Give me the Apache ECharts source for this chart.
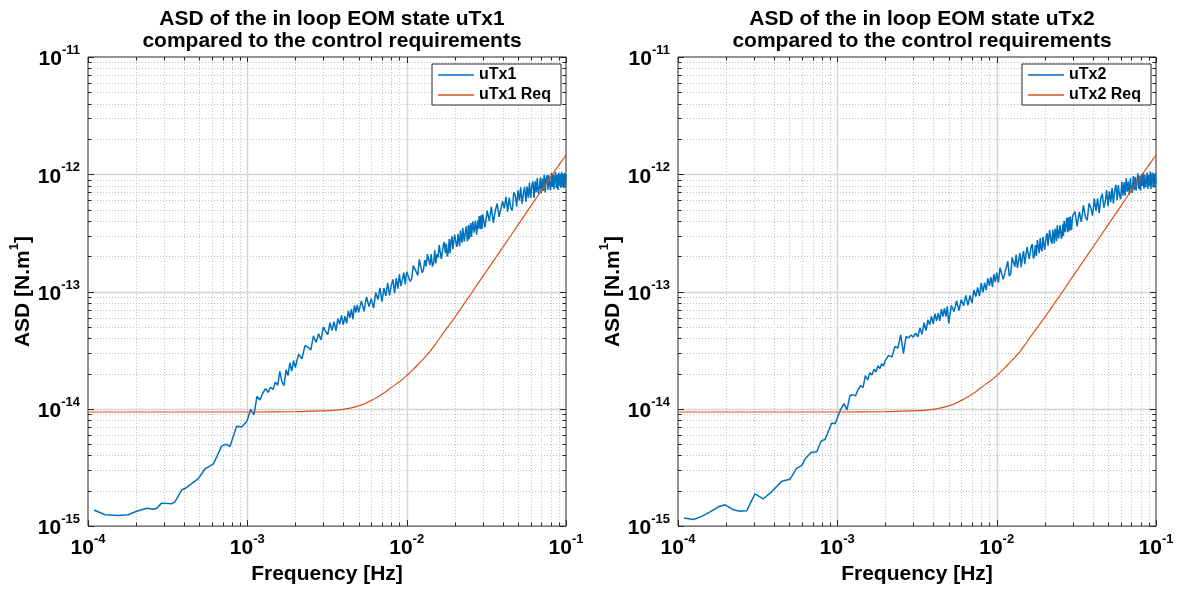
<!DOCTYPE html>
<html><head><meta charset="utf-8">
<script src="https://cdn.jsdelivr.net/npm/echarts@6/dist/echarts.min.js"></script>
<style>html,body{margin:0;padding:0;background:#fff}#chart{width:1179px;height:590px}</style>
</head><body><div id="chart"></div>
<script>
// ---------------- DATA (ASD values stored in fN·m, i.e. units of 1e-15 N.m) ----------------
const FN = 1e-15;

const uTx1FreqLow = [1.09e-4, 1.28e-4, 1.55e-4, 1.79e-4, 2.02e-4, 2.34e-4, 2.57e-4, 2.70e-4, 2.90e-4, 3.35e-4, 3.52e-4, 3.87e-4, 4.06e-4, 4.47e-4, 4.93e-4, 5.42e-4, 6.13e-4, 6.91e-4, 7.42e-4, 7.78e-4, 8.56e-4, 9.22e-4, 9.93e-4];
const uTx1AsdLow  = [1.37, 1.25, 1.23, 1.25, 1.34, 1.42, 1.39, 1.42, 1.57, 1.55, 1.62, 2.03, 2.09, 2.30, 2.54, 3.07, 3.39, 4.83, 4.98, 4.76, 7.10, 7.00, 7.82];

const uTx2FreqLow = [1.09e-4, 1.25e-4, 1.41e-4, 1.59e-4, 1.79e-4, 1.97e-4, 2.22e-4, 2.45e-4, 2.70e-4, 3.04e-4, 3.43e-4, 3.87e-4, 4.48e-4, 5.05e-4, 5.56e-4, 5.98e-4, 6.27e-4, 6.84e-4, 7.43e-4, 7.91e-4, 8.37e-4, 9.23e-4, 9.68e-4];
const uTx2AsdLow  = [1.17, 1.14, 1.21, 1.32, 1.46, 1.52, 1.38, 1.34, 1.35, 1.88, 1.71, 1.96, 2.41, 2.51, 3.12, 3.28, 3.73, 4.24, 4.30, 5.32, 5.48, 7.56, 7.46];

const freqHigh = [
  0.00105,0.0011,0.00115,0.0012,0.00125,0.0013,0.00135,0.0014,0.00145,0.0015,0.00155,0.0016,0.00165,0.0017,0.00175,0.0018,0.00185,0.0019,0.00195,0.002,
  0.0021,0.0022,0.0023,0.0024,0.0025,0.0026,0.0027,0.0028,0.0029,0.0030,0.0031,0.0032,0.0033,0.0034,0.0035,0.0036,0.0037,0.0038,0.0039,0.0040,0.0041,0.0042,0.0043,0.0044,0.0045,0.0046,0.0047,0.0048,0.0049,0.0050,
  0.0052,0.0054,0.0056,0.0058,0.0060,0.0062,0.0064,0.0066,0.0068,0.0070,0.0072,0.0074,0.0076,0.0078,0.0080,0.0082,0.0084,0.0086,0.0088,0.0090,0.0092,0.0094,0.0096,0.0098,0.0100,
  0.01025,0.0105,0.01075,0.011,0.01125,0.0115,0.01175,0.012,0.01225,0.0125,0.01275,0.013,0.01325,0.0135,0.01375,0.014,0.01425,0.0145,0.01475,0.015,
  0.01525,0.0155,0.01575,0.016,0.01625,0.0165,0.01675,0.017,0.01725,0.0175,0.01775,0.018,0.01825,0.0185,0.01875,0.019,0.01925,0.0195,0.01975,0.02,
  0.02025,0.0205,0.02075,0.021,0.02125,0.0215,0.02175,0.022,0.02225,0.0225,0.02275,0.023,0.02325,0.0235,0.02375,0.024,0.02425,0.0245,0.02475,0.025,
  0.02525,0.0255,0.02575,0.026,0.02625,0.0265,0.02675,0.027,0.02725,0.0275,0.02775,0.028,0.02825,0.0285,0.02875,0.029,0.02925,0.0295,0.02975,0.03,
  0.031,0.032,0.033,0.034,0.035,0.036,0.037,0.038,0.039,0.040,0.041,0.042,0.043,0.044,0.045,0.046,0.047,0.048,0.049,0.050,
  0.051,0.052,0.053,0.054,0.055,0.056,0.057,0.058,0.059,0.060,0.061,0.062,0.063,0.064,0.065,0.066,0.067,0.068,0.069,0.070,
  0.071,0.072,0.073,0.074,0.075,0.076,0.077,0.078,0.079,0.080,0.081,0.082,0.083,0.084,0.085,0.086,0.087,0.088,0.089,0.090,
  0.091,0.092,0.093,0.094,0.095,0.096,0.097,0.098,0.099,0.100
];

const uTx1AsdHigh = [
  9.9,8.9,12.8,11.9,13.6,14.9,13.8,15.3,14.6,16.9,15.9,20.9,17.0,15.8,21.5,19.2,24.6,21.0,25.8,22.5,
  29.3,26.7,34.5,33.6,31.7,41.8,36.8,43.6,38.8,50.0,45.7,43.0,54.2,46.6,55.4,46.2,58.9,52.6,62.6,52.0,61.6,53.6,68.5,59.7,70.7,58.0,76.3,66.3,77.0,66.4,
  83.2,67.9,90.0,74.6,87.0,72.2,98.4,85.4,107.3,82.1,106.8,91.8,118.9,92.6,112.2,127.0,97.0,130.2,105.8,140.4,111.4,107.3,144.9,115.3,147.6,
  153.0,122.3,128.3,166.4,168.0,146.3,137.0,188.4,189.5,144.9,152.9,185.5,163.8,208.2,213.4,168.3,209.0,164.1,172.5,224.9,
  173.7,209.1,195.5,249.0,244.3,189.2,187.7,250.9,263.9,212.5,255.1,199.1,216.5,280.6,212.4,270.0,296.6,228.7,237.1,306.2,
  301.7,251.1,240.7,310.2,319.2,243.4,332.3,281.3,261.2,347.5,336.0,266.6,263.6,344.1,360.0,268.6,281.2,368.2,280.8,343.2,
  383.0,292.3,298.8,397.9,394.4,317.6,306.7,402.3,402.6,304.9,314.8,405.9,342.7,439.9,428.3,340.0,447.2,369.6,341.5,455.4,
  353,490,399,530,384,492,563,433,418,587,511,646,479,634,516,491,702,662,531,730,
  595,774,561,683,782,580,784,631,848,627,790,868,629,871,703,927,684,753,936,686,
  920,722,992,701,925,984,734,982,799,732,1030,778,1007,745,932,1047,759,989,734,1028,
  798,1012,765,1051,785,1000,760,1030,807,996
];

const uTx2AsdHigh = [
  9.9,11.1,9.8,13.0,13.2,12.9,14.6,15.8,15.2,19.2,17.6,20.3,19.4,21.8,20.6,23.4,22.0,24.3,23.2,25.9,
  28.6,27.6,34.0,33.0,42.7,29.6,41.5,40.2,42.6,40.9,44.3,41.1,49.0,43.2,54.3,46.5,57.2,52.1,61.6,53.1,64.7,55.9,65.6,56.3,70.7,61.1,72.1,61.2,74.7,53.4,
  76.1,67.4,83.4,68.9,85.6,75.5,92.7,76.4,92.6,79.7,103.6,90.7,108.4,91.4,118.1,98.4,118.8,102.8,129.9,111.9,133.0,109.6,141.0,120.4,145.2,
  119.2,159.9,162.5,127.0,130.5,161.7,181.1,135.2,141.7,195.5,192.4,162.8,206.5,159.3,160.1,213.2,161.5,196.9,221.5,171.1,
  177.8,239.9,237.1,189.9,184.3,243.6,253.9,190.4,202.5,249.5,201.2,274.9,271.8,212.3,286.5,235.0,220.5,293.0,297.0,227.0,
  232.3,299.7,314.5,246.5,246.4,333.9,323.7,266.8,255.3,335.6,348.0,257.6,343.3,319.3,269.2,366.6,367.4,284.2,284.1,369.6,
  379.6,282.2,298.8,373.9,297.6,401.4,405.4,320.4,316.4,424.7,417.2,321.0,432.1,349.7,329.7,435.5,435.6,334.5,345.4,443.5,
  480,359,477,392,544,436,404,566,519,443,622,484,622,466,619,683,518,577,735,535,
  717,579,766,563,721,814,602,808,661,612,863,658,857,657,926,709,865,666,928,759,
  692,968,736,951,723,882,1016,749,972,724,1004,795,1034,754,993,774,856,1033,751,992,
  798,1057,748,971,1035,777,1010,771,1023,833
];

const reqFreq = [1e-4, 5e-4, 1e-3, 2e-3, 3e-3, 3.5e-3, 4e-3, 4.5e-3, 5e-3, 5.5e-3, 6e-3, 6.5e-3, 7e-3, 7.5e-3, 8e-3, 9e-3, 1e-2, 1.1e-2, 1.2e-2, 1.3e-2, 1.4e-2, 1.5e-2, 1.7e-2, 2e-2, 2.5e-2, 3e-2, 4e-2, 5e-2, 6e-2, 7e-2, 8e-2, 9e-2, 1e-1];
const reqAsd  = [9.4, 9.4, 9.4, 9.45, 9.6, 9.7, 9.9, 10.2, 10.6, 11.1, 11.8, 12.5, 13.3, 14.2, 15.2, 17.0, 19.2, 21.7, 24.5, 27.5, 30.8, 34.9, 44.5, 60, 93, 134, 237, 370, 533, 725, 945, 1190, 1460];

const xTickDecades = [1e-4, 1e-3, 1e-2, 1e-1];
const yTickDecades = [1e-15, 1e-14, 1e-13, 1e-12, 1e-11];
const minorMultipliers = [2, 3, 4, 5, 6, 7, 8, 9];

const panelTitles = ['ASD of the in loop EOM state uTx1\ncompared to the control requirements',
                     'ASD of the in loop EOM state uTx2\ncompared to the control requirements'];
const seriesNames = [['uTx1', 'uTx1 Req'], ['uTx2', 'uTx2 Req']];

// ---------------- BUILD ----------------
function zip(fs, vs) { const out = []; const n = Math.min(fs.length, vs.length); for (let i = 0; i < n; i++) out.push([fs[i], vs[i] * FN]); return out; }
const asd1 = zip(uTx1FreqLow, uTx1AsdLow).concat(zip(freqHigh, uTx1AsdHigh));
const asd2 = zip(uTx2FreqLow, uTx2AsdLow).concat(zip(freqHigh, uTx2AsdHigh));
const req = zip(reqFreq, reqAsd);

const XMIN = xTickDecades[0], XMAX = xTickDecades[xTickDecades.length - 1];
const YMIN = yTickDecades[0], YMAX = yTickDecades[yTickDecades.length - 1];

function gridItems() {
  const items = [];
  xTickDecades.forEach((d, i) => {
    items.push([d, YMIN, 0]);
    if (i < xTickDecades.length - 1) minorMultipliers.forEach(m => items.push([d * m, YMIN, 1]));
  });
  yTickDecades.forEach((d, i) => {
    items.push([XMIN, d, 2]);
    if (i < yTickDecades.length - 1) minorMultipliers.forEach(m => items.push([XMIN, d * m, 3]));
  });
  return items;
}
const crisp = v => Math.round(v) + 0.5;
function renderGrid(params, api) {
  const x = api.value(0), y = api.value(1), k = api.value(2);
  const children = [];
  const major = (k === 0 || k === 2);
  const gridStyle = major ? { stroke: '#d4d4d4', lineWidth: 1.4 } : { stroke: '#c0c0c0', lineWidth: 1, lineDash: [1, 2] };
  const tl = major ? 6 : 3.5;
  const tick = { stroke: '#262626', lineWidth: 1 };
  if (k < 2) {
    const p0 = api.coord([x, YMIN]), p1 = api.coord([x, YMAX]);
    const xx = crisp(p0[0]);
    const edge = (x === XMIN || x === XMAX);
    if (!edge) children.push({ type: 'line', shape: { x1: xx, y1: p0[1], x2: xx, y2: p1[1] }, style: gridStyle });
    children.push({ type: 'line', shape: { x1: xx, y1: p0[1], x2: xx, y2: p0[1] - tl }, style: tick });
    children.push({ type: 'line', shape: { x1: xx, y1: p1[1], x2: xx, y2: p1[1] + tl }, style: tick });
  } else {
    const p0 = api.coord([XMIN, y]), p1 = api.coord([XMAX, y]);
    const yy = crisp(p0[1]);
    const edge = (y === YMIN || y === YMAX);
    if (!edge) children.push({ type: 'line', shape: { x1: p0[0], y1: yy, x2: p1[0], y2: yy }, style: gridStyle });
    children.push({ type: 'line', shape: { x1: p0[0], y1: yy, x2: p0[0] + tl, y2: yy }, style: tick });
    children.push({ type: 'line', shape: { x1: p1[0], y1: yy, x2: p1[0] - tl, y2: yy }, style: tick });
  }
  return { type: 'group', children };
}

const FONT = '"Liberation Sans", Arial, Helvetica, sans-serif';
const labelRich = {
  b: { fontSize: 21, fontWeight: 'bold', color: '#000', fontFamily: FONT, lineHeight: 26, verticalAlign: 'bottom' },
  s: { fontSize: 13, fontWeight: 'bold', color: '#000', fontFamily: FONT, lineHeight: 12, verticalAlign: 'top' }
};
const powFmt = v => '{b|10}{s|' + Math.round(Math.log10(v)) + '}';

const grids = [{ left: 88, top: 57, width: 478, height: 478 }, { left: 678, top: 57, width: 478, height: 478 }];
const option = {
  animation: false,
  backgroundColor: '#fff',
  title: grids.map((g, i) => ({
    text: panelTitles[i], left: g.left + g.width / 2, top: 3, textAlign: 'center',
    textStyle: { fontSize: 21, fontWeight: 'bold', color: '#000', lineHeight: 22, fontFamily: FONT }
  })),
  grid: grids.map(g => Object.assign({ show: true, borderColor: '#262626', borderWidth: 1, backgroundColor: '#fff', containLabel: false }, g)),
  legend: grids.map((g, i) => ({
    data: seriesNames[i], orient: 'vertical', left: g.left + 344, top: 64,
    backgroundColor: '#fff', borderColor: '#262626', borderWidth: 1, borderRadius: 0,
    padding: [2, 10, 1, 6], itemGap: 2, itemWidth: 36, itemHeight: 1.5, icon: 'rect',
    textStyle: { fontSize: 16, fontWeight: 'bold', color: '#000', fontFamily: FONT, lineHeight: 18 },
    selectedMode: false
  })),
  xAxis: grids.map((g, i) => ({
    type: 'log', logBase: 10, gridIndex: i, min: XMIN, max: XMAX,
    axisLine: { show: false }, axisTick: { show: false }, splitLine: { show: false },
    axisLabel: { formatter: powFmt, rich: labelRich, margin: 7, showMinLabel: true, showMaxLabel: true },
    name: 'Frequency [Hz]', nameLocation: 'middle', nameGap: 33,
    nameTextStyle: { fontSize: 21, fontWeight: 'bold', color: '#000', fontFamily: FONT }
  })),
  yAxis: grids.map((g, i) => ({
    type: 'log', logBase: 10, gridIndex: i, min: YMIN, max: YMAX,
    axisLine: { show: false }, axisTick: { show: false }, splitLine: { show: false },
    axisLabel: { formatter: powFmt, rich: labelRich, margin: 8, showMinLabel: true, showMaxLabel: true },
    name: '{b|ASD [N.m}{s|1}{b|]}', nameLocation: 'middle', nameGap: 47, nameRotate: 90,
    nameTextStyle: { rich: labelRich }
  })),
  series: [
    { type: 'custom', xAxisIndex: 0, yAxisIndex: 0, data: gridItems(), renderItem: renderGrid, silent: true, z: 1 },
    { type: 'custom', xAxisIndex: 1, yAxisIndex: 1, data: gridItems(), renderItem: renderGrid, silent: true, z: 1 },
    { name: seriesNames[0][0], type: 'line', xAxisIndex: 0, yAxisIndex: 0, data: asd1, symbol: 'none', z: 3,
      lineStyle: { color: '#0072BD', width: 1.5 }, itemStyle: { color: '#0072BD' } },
    { name: seriesNames[0][1], type: 'line', xAxisIndex: 0, yAxisIndex: 0, data: req, symbol: 'none', smooth: 0.3, z: 4,
      lineStyle: { color: '#D95319', width: 1.2 }, itemStyle: { color: '#D95319' } },
    { name: seriesNames[1][0], type: 'line', xAxisIndex: 1, yAxisIndex: 1, data: asd2, symbol: 'none', z: 3,
      lineStyle: { color: '#0072BD', width: 1.5 }, itemStyle: { color: '#0072BD' } },
    { name: seriesNames[1][1], type: 'line', xAxisIndex: 1, yAxisIndex: 1, data: req, symbol: 'none', smooth: 0.3, z: 4,
      lineStyle: { color: '#D95319', width: 1.2 }, itemStyle: { color: '#D95319' } }
  ]
};
const chart = echarts.init(document.getElementById('chart'), null, { renderer: 'canvas' });
chart.setOption(option);
</script>
</body></html>
